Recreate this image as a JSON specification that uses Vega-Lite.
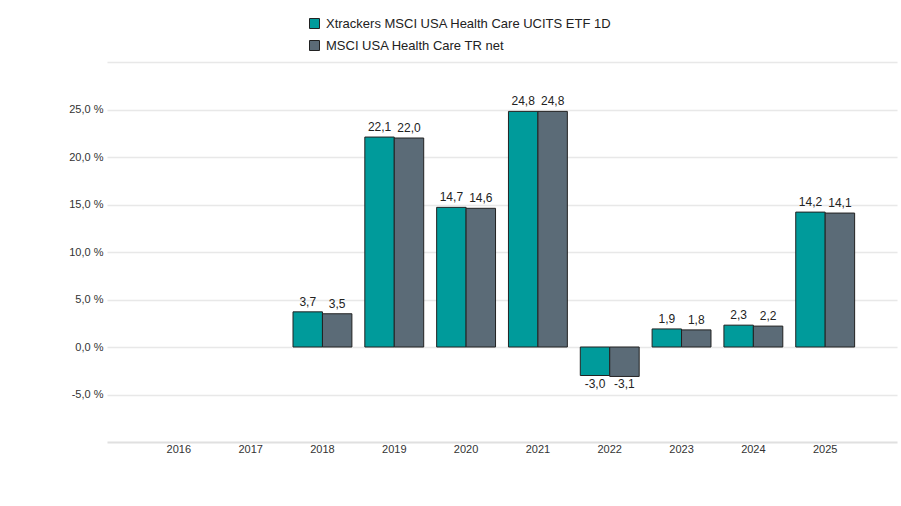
{
  "$schema": "https://vega.github.io/schema/vega-lite/v6.json",
  "width": 790,
  "height": 380,
  "autosize": {"type": "none"},
  "padding": {"left": 107, "top": 62, "right": 4, "bottom": 64},
  "background": "white",
  "config": {
    "locale": {"number": {"decimal": ",", "thousands": ".", "grouping": [3], "currency": ["", " €"], "minus": "-"}},
    "view": {"stroke": null},
    "font": "Liberation Sans"
  },
  "data": {
    "values": [
      {"year": "2018", "series": "Xtrackers MSCI USA Health Care UCITS ETF 1D", "value": 3.7},
      {"year": "2018", "series": "MSCI USA Health Care TR net", "value": 3.5},
      {"year": "2019", "series": "Xtrackers MSCI USA Health Care UCITS ETF 1D", "value": 22.1},
      {"year": "2019", "series": "MSCI USA Health Care TR net", "value": 22.0},
      {"year": "2020", "series": "Xtrackers MSCI USA Health Care UCITS ETF 1D", "value": 14.7},
      {"year": "2020", "series": "MSCI USA Health Care TR net", "value": 14.6},
      {"year": "2021", "series": "Xtrackers MSCI USA Health Care UCITS ETF 1D", "value": 24.8},
      {"year": "2021", "series": "MSCI USA Health Care TR net", "value": 24.8},
      {"year": "2022", "series": "Xtrackers MSCI USA Health Care UCITS ETF 1D", "value": -3.0},
      {"year": "2022", "series": "MSCI USA Health Care TR net", "value": -3.1},
      {"year": "2023", "series": "Xtrackers MSCI USA Health Care UCITS ETF 1D", "value": 1.9},
      {"year": "2023", "series": "MSCI USA Health Care TR net", "value": 1.8},
      {"year": "2024", "series": "Xtrackers MSCI USA Health Care UCITS ETF 1D", "value": 2.3},
      {"year": "2024", "series": "MSCI USA Health Care TR net", "value": 2.2},
      {"year": "2025", "series": "Xtrackers MSCI USA Health Care UCITS ETF 1D", "value": 14.2},
      {"year": "2025", "series": "MSCI USA Health Care TR net", "value": 14.1}
    ]
  },
  "encoding": {
    "x": {
      "field": "year",
      "type": "nominal",
      "scale": {
        "domain": ["2016", "2017", "2018", "2019", "2020", "2021", "2022", "2023", "2024", "2025"],
        "paddingInner": 0.18,
        "paddingOuter": 0.59
      },
      "axis": {
        "title": null,
        "labelAngle": 0,
        "labelFontSize": 11,
        "labelColor": "#333333",
        "labelPadding": 1,
        "ticks": false,
        "domainColor": "#e0e0e0",
        "domainWidth": 2,
        "grid": false
      }
    },
    "xOffset": {
      "field": "series",
      "type": "nominal",
      "scale": {"domain": ["Xtrackers MSCI USA Health Care UCITS ETF 1D", "MSCI USA Health Care TR net"], "paddingInner": 0, "paddingOuter": 0}
    },
    "y": {
      "field": "value",
      "type": "quantitative",
      "scale": {"domain": [-10, 30], "nice": false},
      "axis": {
        "title": null,
        "values": [-5, 0, 5, 10, 15, 20, 25, 30],
        "labelExpr": "datum.value == 30 ? '' : format(datum.value, '.1f') + ' %'",
        "labelFontSize": 11,
        "labelColor": "#333333",
        "labelPadding": 4,
        "ticks": false,
        "domain": false,
        "gridColor": "#e8e8e8",
        "gridWidth": 1.5
      }
    }
  },
  "layer": [
    {
      "mark": {"type": "bar", "stroke": "#222222", "strokeWidth": 1},
      "encoding": {
        "color": {
          "field": "series",
          "type": "nominal",
          "scale": {
            "domain": ["Xtrackers MSCI USA Health Care UCITS ETF 1D", "MSCI USA Health Care TR net"],
            "range": ["#009b9b", "#5b6b77"]
          },
          "legend": {
            "title": null,
            "orient": "none",
            "legendX": 201,
            "legendY": -45,
            "direction": "vertical",
            "symbolType": "square",
            "symbolSize": 100,
            "symbolStrokeColor": "#222222",
            "symbolStrokeWidth": 1,
            "symbolOpacity": 1,
            "labelFontSize": 13,
            "labelColor": "#222222",
            "labelOffset": 5,
            "rowPadding": 7,
            "labelLimit": 500
          }
        }
      }
    },
    {
      "transform": [{"filter": "datum.value >= 0"}],
      "mark": {"type": "text", "baseline": "bottom", "dy": -3, "fontSize": 12, "color": "#222222"},
      "encoding": {"text": {"field": "value", "type": "quantitative", "format": ".1f"}}
    },
    {
      "transform": [{"filter": "datum.value < 0"}],
      "mark": {"type": "text", "baseline": "top", "dy": 3, "fontSize": 12, "color": "#222222"},
      "encoding": {"text": {"field": "value", "type": "quantitative", "format": ".1f"}}
    }
  ]
}
